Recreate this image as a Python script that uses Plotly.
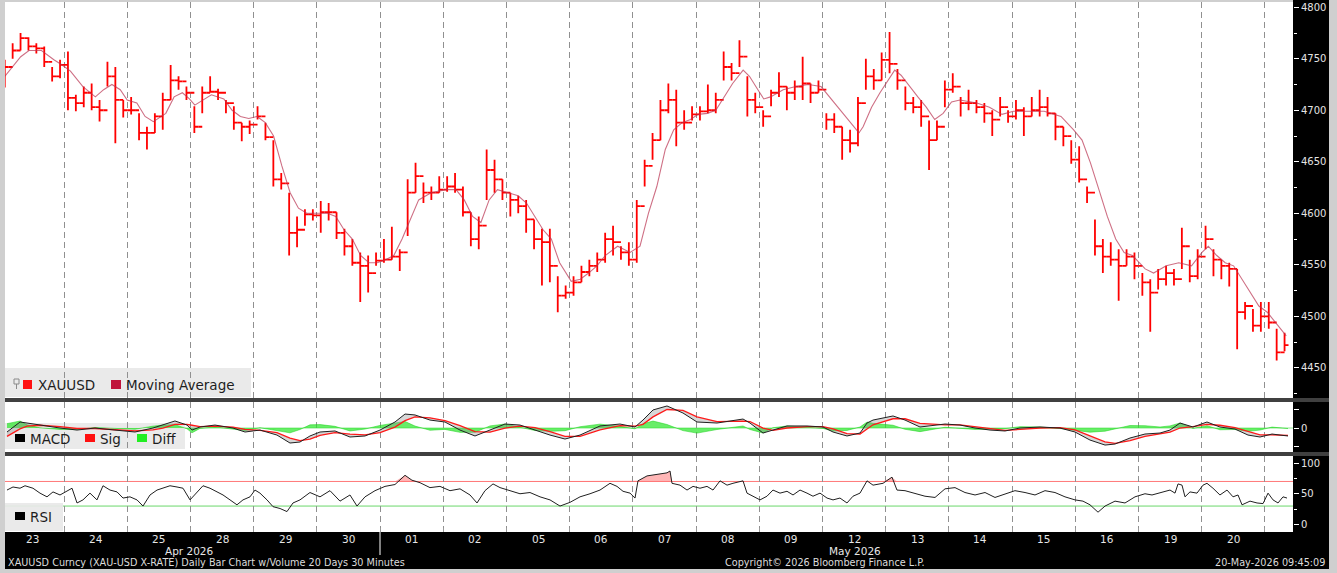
import plotly.graph_objects as go

# ---------------- data ----------------
day_labels = ["23", "24", "25", "28", "29", "30", "01", "02", "05", "06",
              "07", "08", "09", "12", "13", "14", "15", "16", "19", "20"]
month_labels = ["Apr 2026", "May 2026"]
month_pos = [2.99, 13.52]          # in trading-day units

# 8 bars per trading day (3-hour bars), last day partial (3 bars)
price_high = [
    4749, 4765, 4775, 4771, 4765, 4762, 4742, 4749,
    4757, 4715, 4723, 4726, 4710, 4747, 4742, 4710,
    4713, 4697, 4684, 4697, 4717, 4744, 4733, 4723,
    4704, 4723, 4733, 4721, 4710, 4704, 4688, 4690,
    4704, 4688, 4671, 4639, 4620, 4597, 4604, 4604,
    4612, 4610, 4601, 4585, 4575, 4562, 4559, 4562,
    4575, 4587, 4565, 4633, 4649, 4630, 4626, 4636,
    4636, 4639, 4626, 4601, 4597, 4662, 4652, 4633,
    4620, 4617, 4613, 4594, 4585, 4585, 4539, 4530,
    4539, 4549, 4555, 4562, 4581, 4588, 4568, 4572,
    4613, 4652, 4678, 4710, 4726, 4720, 4700, 4704,
    4704, 4725, 4717, 4757, 4746, 4768, 4733, 4717,
    4700, 4720, 4737, 4723, 4729, 4752, 4726, 4729,
    4697, 4697, 4684, 4681, 4713, 4750, 4740, 4756,
    4776, 4740, 4723, 4713, 4710, 4690, 4690, 4729,
    4736, 4713, 4720, 4710, 4707, 4700, 4713, 4700,
    4710, 4703, 4713, 4720, 4713, 4697, 4684, 4671,
    4665, 4626, 4594, 4575, 4572, 4565, 4565, 4562,
    4542, 4536, 4546, 4549, 4546, 4586, 4555, 4565,
    4588, 4565, 4555, 4552, 4546, 4514, 4507, 4514,
    4514, 4488, 4484,
]
price_low = [
    4722, 4750, 4758, 4758, 4755, 4742, 4728, 4731,
    4700, 4699, 4703, 4700, 4689, 4723, 4668, 4693,
    4696, 4671, 4662, 4678, 4681, 4710, 4720, 4710,
    4678, 4697, 4717, 4710, 4697, 4681, 4670, 4677,
    4691, 4671, 4626, 4623, 4559, 4567, 4588, 4593,
    4581, 4593, 4575, 4559, 4549, 4514, 4523, 4549,
    4552, 4555, 4544, 4578, 4620, 4610, 4613, 4620,
    4621, 4620, 4597, 4568, 4565, 4613, 4620, 4613,
    4597, 4600, 4581, 4565, 4530, 4533, 4504, 4517,
    4520, 4533, 4539, 4543, 4552, 4559, 4555, 4549,
    4552, 4626, 4652, 4671, 4697, 4665, 4681, 4690,
    4690, 4697, 4697, 4729, 4729, 4742, 4694, 4697,
    4684, 4704, 4713, 4700, 4710, 4710, 4707, 4717,
    4681, 4678, 4652, 4659, 4665, 4720, 4720, 4729,
    4736, 4720, 4700, 4697, 4684, 4642, 4671, 4703,
    4717, 4694, 4700, 4697, 4688, 4675, 4694, 4688,
    4691, 4675, 4694, 4694, 4694, 4671, 4665, 4648,
    4630, 4610, 4559, 4542, 4549, 4515, 4549, 4536,
    4520, 4485, 4526, 4530, 4530, 4546, 4533, 4536,
    4565, 4539, 4536, 4529, 4468, 4497, 4485, 4485,
    4488, 4457, 4466,
]
price_close = [
    4742, 4758, 4770, 4762, 4760, 4747, 4733, 4744,
    4712, 4707, 4717, 4703, 4700, 4733, 4710, 4700,
    4700, 4678, 4678, 4694, 4710, 4729, 4728, 4717,
    4684, 4717, 4718, 4717, 4707, 4688, 4684, 4686,
    4694, 4674, 4633, 4629, 4581, 4584, 4599, 4598,
    4601, 4601, 4581, 4568, 4552, 4549, 4542, 4554,
    4555, 4558, 4562, 4620, 4636, 4620, 4620, 4623,
    4626, 4623, 4601, 4575, 4588, 4642, 4633, 4620,
    4613, 4607, 4594, 4575, 4572, 4549, 4520, 4523,
    4533, 4543, 4549, 4555, 4575, 4572, 4562, 4555,
    4607, 4646, 4671, 4700, 4710, 4688, 4688, 4696,
    4699, 4700, 4710, 4742, 4736, 4752, 4710, 4703,
    4694, 4717, 4723, 4717, 4723, 4726, 4717, 4720,
    4691, 4684, 4671, 4668, 4707, 4733, 4729, 4749,
    4745, 4729, 4707, 4703, 4694, 4671, 4684, 4720,
    4723, 4707, 4707, 4703, 4697, 4691, 4703, 4694,
    4700, 4694, 4700, 4703, 4697, 4684, 4675, 4652,
    4633, 4620, 4568, 4558, 4555, 4549, 4558, 4549,
    4533, 4523, 4536, 4542, 4536, 4568, 4539, 4558,
    4575, 4555, 4549, 4546, 4504, 4510, 4491, 4500,
    4494, 4465, 4472,
]

ma_t = [0.066, 0.315, 0.446, 0.643, 0.84, 0.971, 1.102, 1.299, 1.496, 1.627,
        1.758, 1.89, 2.0, 2.152, 2.283, 2.414, 2.611, 2.742, 2.873, 2.985,
        3.07, 3.201, 3.332, 3.529, 3.66, 3.791, 3.923, 4.054, 4.185, 4.316,
        4.447, 4.578, 4.71, 4.841, 4.972, 5.169, 5.3, 5.431, 5.562, 5.693,
        5.825, 5.956, 6.087, 6.218, 6.349, 6.481, 6.612, 6.809, 7.038, 7.202,
        7.333, 7.465, 7.596, 7.727, 7.858, 8.029, 8.186, 8.317, 8.448, 8.58,
        8.711, 8.842, 9.026, 9.17, 9.301, 9.432, 9.563, 9.76, 9.957, 10.114,
        10.247, 10.38, 10.514, 10.647, 10.78, 10.913, 11.033, 11.18, 11.313, 11.446,
        11.579, 11.746, 11.846, 11.979, 12.072, 12.179, 12.379, 12.579, 12.778, 12.978,
        13.111, 13.245, 13.445, 13.578, 13.644, 13.778, 13.911, 14.044, 14.144, 14.244,
        14.377, 14.51, 14.643, 14.777, 14.91, 15.043, 15.176, 15.443, 15.643, 15.842,
        16.022, 16.242, 16.509, 16.775, 16.975, 17.108, 17.241, 17.375, 17.508, 17.641,
        17.774, 17.907, 18.007, 18.107, 18.24, 18.44, 18.64, 18.84, 19.006, 19.106,
        19.24, 19.373, 19.506, 19.639, 19.773, 19.906, 20.039, 20.172, 20.339]
ma_val = [4733, 4752, 4758, 4758, 4749, 4744, 4738, 4723, 4713, 4720,
          4725, 4720, 4710, 4707, 4694, 4689, 4697, 4713, 4717, 4711,
          4705, 4710, 4715, 4711, 4700, 4694, 4692, 4694, 4688, 4675,
          4646, 4620, 4605, 4600, 4600, 4600, 4597, 4584, 4575, 4559,
          4552, 4552, 4555, 4559, 4575, 4594, 4613, 4620, 4623, 4623,
          4613, 4597, 4591, 4613, 4623, 4620, 4617, 4610, 4597, 4584,
          4575, 4552, 4534, 4536, 4542, 4549, 4559, 4568, 4562, 4568,
          4600, 4626, 4662, 4681, 4688, 4691, 4696, 4697, 4700, 4713,
          4726, 4739, 4733, 4720, 4711, 4713, 4720, 4723, 4725, 4723,
          4713, 4703, 4688, 4678, 4684, 4703, 4717, 4729, 4739, 4734,
          4723, 4713, 4703, 4691, 4697, 4708, 4710, 4707, 4703, 4696,
          4699, 4699, 4699, 4694, 4681, 4671, 4649, 4623, 4597, 4575,
          4562, 4559, 4552, 4546, 4542, 4549, 4552, 4549, 4562, 4568,
          4559, 4552, 4549, 4536, 4523, 4510, 4504, 4494, 4481]

macd_t = [0.098, 0.193, 0.304, 0.415, 0.62, 0.937, 1.206, 1.49, 1.807, 2.123,
          2.408, 2.566, 2.756, 2.946, 3.025, 3.152, 3.389, 3.674, 3.864, 4.101,
          4.37, 4.576, 4.734, 4.892, 5.051, 5.288, 5.525, 5.763, 6.0, 6.237,
          6.396, 6.554, 6.791, 7.028, 7.266, 7.503, 7.741, 7.978, 8.215, 8.453,
          8.69, 8.927, 9.165, 9.481, 9.797, 10.035, 10.161, 10.32, 10.541, 10.794,
          11.016, 11.332, 11.744, 11.854, 12.06, 12.218, 12.44, 12.756, 13.009, 13.168,
          13.389, 13.595, 13.706, 13.801, 14.117, 14.307, 14.544, 14.94, 15.177, 15.415,
          15.652, 15.889, 16.127, 16.443, 16.759, 16.997, 17.234, 17.472, 17.63, 17.867,
          18.104, 18.342, 18.5, 18.658, 18.864, 19.085, 19.29, 19.528, 19.734, 19.924,
          20.114, 20.241, 20.367]
macd_val = [-4.3, 1.1, 6.5, 5.4, 3.2, 0.0, -2.2, 0.0, -2.2, -4.3,
            0.0, 3.2, 7.6, 3.2, -2.2, 1.1, 3.2, 0.0, -4.3, -2.2,
            -7.6, -16.2, -15.1, -8.6, -4.3, -3.2, -9.7, -8.6, -2.2, 6.5,
            15.1, 14.1, 8.6, 6.5, -2.2, -8.6, -2.2, 4.3, 3.2, -2.2,
            -7.6, -11.9, -7.6, 2.2, 4.3, 1.1, 8.6, 19.5, 23.8, 16.2,
            6.5, 5.4, 9.7, 5.4, -5.4, -2.2, 2.2, 2.2, 1.1, -4.3,
            -8.6, -5.4, 5.4, 8.6, 13.0, 8.6, 1.1, 4.3, 3.2, 0.0,
            -2.2, -3.2, 0.0, 1.1, 0.0, -4.3, -13.0, -18.4, -17.3, -10.8,
            -6.5, -5.4, -2.2, 5.4, 1.1, 6.5, 1.1, -1.1, -7.6, -9.7,
            -6.5, -7.6, -8.6]
sig_val = [-9.0, -5.0, -1.0, 2.0, 3.0, 1.5, -0.5, -0.5, -1.5, -3.0,
           -2.0, 0.0, 4.0, 4.0, 3.0, 1.5, 2.0, 1.0, -1.5, -2.5,
           -5.0, -11.0, -13.5, -12.0, -8.0, -5.0, -6.5, -7.5, -5.0, 1.0,
           8.0, 12.0, 11.0, 8.0, 2.5, -4.0, -4.5, 0.0, 2.0, 0.5,
           -4.0, -9.0, -9.0, -2.0, 2.5, 2.0, 4.0, 12.0, 20.0, 19.0,
           12.0, 7.0, 7.5, 7.0, 0.0, -2.5, 0.0, 1.5, 1.5, -1.0,
           -6.0, -6.5, -1.0, 3.5, 10.0, 10.0, 5.0, 3.5, 3.5, 1.5,
           -1.0, -2.5, -1.5, 0.0, 0.5, -2.0, -8.5, -15.0, -16.5, -13.5,
           -9.0, -6.5, -4.5, 0.0, 1.5, 4.0, 3.0, 0.5, -4.0, -7.5,
           -7.5, -7.5, -8.0]
diff_val = [4.7, 6.1, 7.5, 3.4, 0.2, -1.5, -1.7, 0.5, -0.7, -1.3,
            2.0, 3.2, 3.6, -0.8, -5.2, -0.4, 1.2, -1.0, -2.8, 0.3,
            -2.6, -5.2, -1.6, 3.4, 3.7, 1.8, -3.2, -1.1, 2.8, 5.5,
            7.1, 2.1, -2.4, -1.5, -4.7, -4.6, 2.3, 4.3, 1.2, -2.7,
            -3.6, -2.9, 1.4, 4.2, 1.8, -0.9, 4.6, 7.5, 3.8, -2.8,
            -5.5, -1.6, 2.2, -1.6, -5.4, 0.3, 2.2, 0.7, -0.4, -3.3,
            -2.6, 1.1, 6.4, 5.1, 3.0, -1.4, -3.9, 0.8, -0.3, -1.5,
            -1.2, -0.7, 1.5, 1.1, -0.5, -2.3, -4.5, -3.4, -0.8, 2.7,
            2.5, 1.1, 2.3, 5.4, -0.4, 2.5, -1.9, -1.6, -3.6, -2.2,
            1.0, -0.1, -0.6]

rsi_t = [0.098, 0.193, 0.304, 0.383, 0.509, 0.62, 0.731, 0.826, 0.937, 1.016,
         1.127, 1.206, 1.3, 1.411, 1.522, 1.617, 1.728, 1.839, 1.934, 2.044,
         2.155, 2.25, 2.361, 2.472, 2.566, 2.677, 2.788, 2.883, 2.994, 3.104,
         3.199, 3.31, 3.421, 3.516, 3.627, 3.737, 3.832, 3.943, 4.022, 4.101,
         4.212, 4.307, 4.418, 4.528, 4.623, 4.734, 4.892, 5.051, 5.209, 5.367,
         5.525, 5.636, 5.763, 5.921, 6.079, 6.237, 6.396, 6.506, 6.633, 6.791,
         6.949, 7.108, 7.266, 7.424, 7.535, 7.661, 7.788, 7.899, 8.057, 8.215,
         8.373, 8.532, 8.69, 8.848, 9.006, 9.165, 9.323, 9.481, 9.639, 9.75,
         9.845, 9.956, 10.035, 10.082, 10.225, 10.383, 10.541, 10.589, 10.62, 10.747,
         10.858, 10.953, 11.063, 11.174, 11.269, 11.38, 11.491, 11.585, 11.696, 11.744,
         11.807, 11.902, 12.013, 12.123, 12.218, 12.329, 12.44, 12.535, 12.646, 12.756,
         12.851, 12.962, 13.073, 13.168, 13.278, 13.389, 13.484, 13.595, 13.706, 13.801,
         13.959, 14.101, 14.18, 14.307, 14.465, 14.623, 14.782, 14.94, 15.098, 15.256,
         15.415, 15.573, 15.731, 15.889, 16.047, 16.206, 16.364, 16.522, 16.68, 16.838,
         16.997, 17.123, 17.234, 17.361, 17.472, 17.63, 17.788, 17.946, 18.104, 18.215,
         18.389, 18.5, 18.579, 18.627, 18.69, 18.737, 18.816, 18.927, 19.022, 19.085,
         19.18, 19.29, 19.402, 19.497, 19.576, 19.639, 19.766, 19.877, 19.972, 20.051,
         20.13, 20.209, 20.288, 20.351]
rsi_val = [56, 61, 59, 63, 59, 51, 45, 53, 48, 53,
           59, 35, 40, 51, 40, 63, 56, 53, 43, 45,
           40, 30, 48, 56, 59, 63, 61, 59, 40, 53,
           63, 59, 53, 48, 40, 32, 40, 45, 56, 51,
           40, 29, 26, 21, 35, 40, 52, 45, 55, 38,
           48, 30, 45, 55, 62, 65, 80, 72, 68, 60,
           62, 55, 58, 48, 35, 55, 66, 60, 55, 50,
           52, 45, 40, 30, 36, 45, 50, 56, 67, 62,
           54, 51, 43, 71, 79, 82, 84, 87, 67, 64,
           56, 62, 59, 62, 56, 71, 64, 67, 69, 71,
           51, 46, 40, 46, 56, 51, 54, 48, 56, 51,
           46, 51, 43, 40, 43, 35, 46, 51, 71, 64,
           67, 77, 56, 55, 50, 46, 44, 58, 60, 52,
           48, 52, 44, 50, 55, 52, 48, 55, 52, 45,
           40, 38, 32, 20, 30, 38, 35, 45, 50, 48,
           53, 56, 51, 66, 64, 45, 53, 51, 64, 67,
           59, 48, 56, 45, 48, 32, 38, 35, 34, 51,
           40, 35, 45, 43]

rsi_over, rsi_under = 70, 30

# ---------------- derived positions ----------------
t_price = [d + (k + 0.5) / 8 for d in range(20) for k in range(8)] + \
          [20 + (k + 0.5) / 8 for k in range(3)]
price_open = [price_close[0]] + price_close[:-1]
rsi_top = [max(v, rsi_over) for v in rsi_val]

# ---------------- layout geometry helpers ----------------
W, H = 1337, 573
ML, MR, MT, MB = 5, 44, 2, 41
PW, PH = W - ML - MR, H - MT - MB


def fx(px):
    return (px - ML) / PW


def fy(py):
    return (H - MB - py) / PH


FONT = "DejaVu Sans"

fig = go.Figure()

# price panel
fig.add_trace(go.Ohlc(
    x=t_price, open=price_open, high=price_high, low=price_low, close=price_close,
    increasing=dict(line=dict(color="#ff0000", width=1.8)),
    decreasing=dict(line=dict(color="#ff0000", width=1.8)),
    tickwidth=0.5, xaxis="x", yaxis="y", showlegend=False, hoverinfo="skip"))
fig.add_trace(go.Scatter(
    x=ma_t, y=ma_val, mode="lines", line=dict(color="rgba(185,50,80,0.7)", width=1.1),
    xaxis="x", yaxis="y", showlegend=False, hoverinfo="skip"))

# MACD panel
fig.add_trace(go.Scatter(
    x=macd_t, y=diff_val, mode="lines", fill="tozeroy",
    fillcolor="rgba(40,230,40,0.7)", line=dict(color="rgba(30,210,30,0.9)", width=0.6),
    xaxis="x", yaxis="y2", showlegend=False, hoverinfo="skip"))
fig.add_trace(go.Scatter(
    x=macd_t, y=sig_val, mode="lines", line=dict(color="#ff1a1a", width=1.3),
    xaxis="x", yaxis="y2", showlegend=False, hoverinfo="skip"))
fig.add_trace(go.Scatter(
    x=macd_t, y=macd_val, mode="lines", line=dict(color="#202020", width=1),
    fill="tonexty", fillcolor="rgba(140,140,140,0.35)",
    xaxis="x", yaxis="y2", showlegend=False, hoverinfo="skip"))

# RSI panel
fig.add_trace(go.Scatter(
    x=rsi_t, y=[rsi_over] * len(rsi_t), mode="lines", line=dict(width=0, color="rgba(0,0,0,0)"),
    xaxis="x", yaxis="y3", showlegend=False, hoverinfo="skip"))
fig.add_trace(go.Scatter(
    x=rsi_t, y=rsi_top, mode="lines", line=dict(width=0, color="rgba(0,0,0,0)"),
    fill="tonexty", fillcolor="rgba(255,110,110,0.5)",
    xaxis="x", yaxis="y3", showlegend=False, hoverinfo="skip"))
fig.add_trace(go.Scatter(
    x=rsi_t, y=rsi_val, mode="lines", line=dict(color="#202020", width=1),
    xaxis="x", yaxis="y3", showlegend=False, hoverinfo="skip"))

tickfont = dict(family=FONT, size=10, color="#e4e4e4")
yaxis_common = dict(side="right", anchor="x", showgrid=False, zeroline=False,
                    ticks="outside", ticklen=5, tickcolor="#ffffff", tickwidth=1,
                    tickfont=tickfont, showline=False, fixedrange=True)

fig.update_layout(
    width=W, height=H,
    margin=dict(l=ML, r=MR, t=MT, b=MB, pad=0),
    paper_bgcolor="#cfcfcf", plot_bgcolor="#ffffff",
    showlegend=False,
    font=dict(family=FONT),
    xaxis=dict(domain=[0, 1], range=[0.0665, 20.446], anchor="y3",
               tickmode="array", tickvals=list(range(1, 21)), showticklabels=False,
               ticks="inside", ticklen=4, tickcolor="#9a9a9a",
               showgrid=True, gridcolor="#909090", gridwidth=1, griddash="6px,4px",
               zeroline=False, showline=False, fixedrange=True,
               rangeslider=dict(visible=False)),
    yaxis=dict(domain=[fy(398), 1], range=[4420.7, 4805.1],
               tickmode="array", tickvals=[4450, 4500, 4550, 4600, 4650, 4700, 4750, 4800],
               minor=dict(tickmode="array",
                          tickvals=[4425, 4475, 4525, 4575, 4625, 4675, 4725, 4775],
                          ticks="outside", ticklen=3, tickcolor="#ffffff", showgrid=False),
               **yaxis_common),
    yaxis2=dict(domain=[fy(452), fy(402)], range=[-25.9, 28.1],
                tickmode="array", tickvals=[-20, 0, 20], ticktext=["", "0", ""],
                **yaxis_common),
    yaxis3=dict(domain=[0, fy(456)], range=[-12.2, 111.4],
                tickmode="array", tickvals=[0, 50, 100],
                minor=dict(tickmode="array", tickvals=[25, 75],
                           ticks="outside", ticklen=3, tickcolor="#ffffff", showgrid=False),
                **yaxis_common),
)

shapes = []
# black right axis band and black bottom band
shapes.append(dict(type="rect", xref="paper", yref="paper", x0=1, x1=fx(1329),
                   y0=fy(569), y1=fy(0), fillcolor="#000000", line=dict(width=0), layer="below"))
shapes.append(dict(type="rect", xref="paper", yref="paper", x0=0, x1=fx(1329),
                   y0=fy(569), y1=0, fillcolor="#000000", line=dict(width=0), layer="below"))
# RSI reference lines and MACD zero line
shapes.append(dict(type="line", xref="paper", yref="y3", x0=0, x1=1, y0=rsi_over, y1=rsi_over,
                   line=dict(color="#ff7878", width=1), layer="below"))
shapes.append(dict(type="line", xref="paper", yref="y3", x0=0, x1=1, y0=rsi_under, y1=rsi_under,
                   line=dict(color="#6ad86a", width=1), layer="below"))
shapes.append(dict(type="line", xref="paper", yref="y2", x0=0, x1=1, y0=0, y1=0,
                   line=dict(color="#8fe88f", width=1), layer="below"))
# legend boxes
for x0, x1, y0, y1 in [(5, 251, 368, 397), (5, 185, 423, 449), (5, 63, 503, 531)]:
    shapes.append(dict(type="rect", xref="paper", yref="paper", x0=fx(x0), x1=fx(x1),
                       y0=fy(y1), y1=fy(y0), fillcolor="rgba(232,232,232,0.92)",
                       line=dict(width=0), layer="below"))
# panel separators
for a, b in [(398, 402), (452, 456)]:
    shapes.append(dict(type="rect", xref="paper", yref="paper", x0=0, x1=fx(1329),
                       y0=fy(b), y1=fy(a), fillcolor="#404040", line=dict(width=0), layer="above"))
# month separator in date band
shapes.append(dict(type="line", xref="x", yref="paper", x0=6, x1=6, y0=0, y1=fy(555),
                   line=dict(color="#ffffff", width=1), layer="above"))
# legend swatches
for x0, x1, y0, y1, col in [(23, 32, 380, 389, "#ff1010"), (111, 121, 380, 389, "#c0143c"),
                            (15, 25, 434, 442, "#000000"), (85, 95, 434, 442, "#ff1010"),
                            (137, 147, 434, 442, "#22ee22"), (15, 25, 512, 520, "#000000")]:
    shapes.append(dict(type="rect", xref="paper", yref="paper", x0=fx(x0), x1=fx(x1),
                       y0=fy(y1), y1=fy(y0), fillcolor=col, line=dict(width=0), layer="above"))
# little pin icon
shapes.append(dict(type="rect", xref="paper", yref="paper", x0=fx(14), x1=fx(19),
                   y0=fy(384), y1=fy(379), line=dict(color="#8a8a8a", width=1), layer="above"))
shapes.append(dict(type="line", xref="paper", yref="paper", x0=fx(16.5), x1=fx(16.5),
                   y0=fy(389), y1=fy(384), line=dict(color="#8a8a8a", width=1), layer="above"))
fig.update_layout(shapes=shapes)

ann = []
for i, lab in enumerate(day_labels):
    ann.append(dict(x=i + 0.5, y=fy(538.5), xref="x", yref="paper", text=lab, showarrow=False,
                    font=dict(family=FONT, size=10.5, color="#e6e6e6"),
                    xanchor="center", yanchor="middle"))
for lab, pos in zip(month_labels, month_pos):
    ann.append(dict(x=pos, y=fy(550.5), xref="x", yref="paper", text=lab, showarrow=False,
                    font=dict(family=FONT, size=10.5, color="#e6e6e6"),
                    xanchor="center", yanchor="middle"))
bottom_font = dict(family=FONT, size=9.7, color="#dcdcdc")
ann.append(dict(x=fx(6), y=fy(562.5), xref="paper", yref="paper", showarrow=False,
                text="XAUUSD Curncy (XAU-USD X-RATE) Daily Bar Chart w/Volume 20 Days 30 Minutes",
                font=bottom_font, xanchor="left", yanchor="middle"))
ann.append(dict(x=fx(825), y=fy(562.5), xref="paper", yref="paper", showarrow=False,
                text="Copyright\u00a9 2026 Bloomberg Finance L.P.",
                font=bottom_font, xanchor="center", yanchor="middle"))
ann.append(dict(x=fx(1327), y=fy(562.5), xref="paper", yref="paper", showarrow=False,
                text="20-May-2026 09:45:09",
                font=bottom_font, xanchor="right", yanchor="middle"))
leg_font = dict(family=FONT, size=13.5, color="#1e1e1e")
for txt, px, py in [("XAUUSD", 36, 384.5), ("Moving Average", 124, 384.5),
                    ("MACD", 28, 438.5), ("Sig", 98, 438.5), ("Diff", 150, 438.5),
                    ("RSI", 28, 516.5)]:
    ann.append(dict(x=fx(px), y=fy(py), xref="paper", yref="paper", text=txt, showarrow=False,
                    font=leg_font, xanchor="left", yanchor="middle"))
fig.update_layout(annotations=ann)

fig.write_html("out.html", config={"displayModeBar": False},
               post_script="document.body.style.margin='0';")
